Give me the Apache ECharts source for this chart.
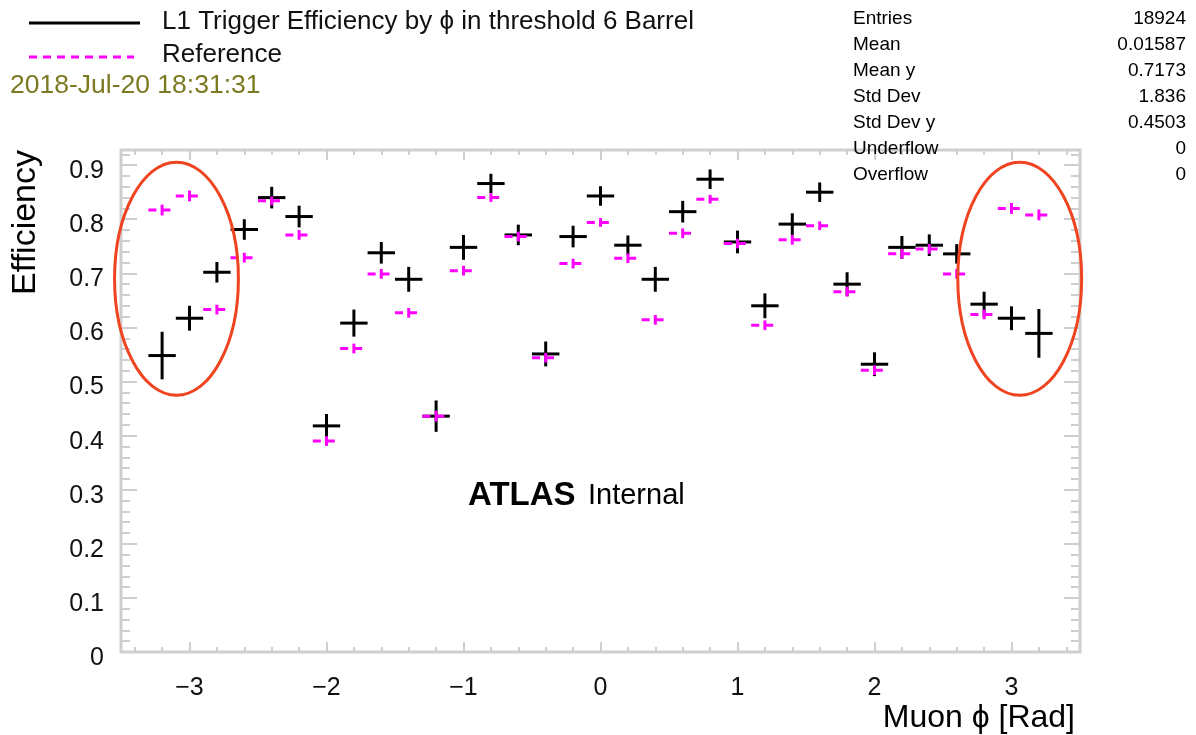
<!DOCTYPE html>
<html>
<head>
<meta charset="utf-8">
<title>L1 Trigger Efficiency by phi</title>
<script src="https://cdn.jsdelivr.net/npm/echarts@6/dist/echarts.min.js"></script>
<style>
  html, body { margin: 0; padding: 0; background: #fff; }
  #myChart { width: 1196px; height: 735px; }
</style>
</head>
<body>
<div id="myChart"></div>
<script>
// bin centres in muon phi [rad], bins are 0.2 wide
const phiBins = [-3.2, -3.0, -2.8, -2.6, -2.4, -2.2, -2.0, -1.8, -1.6, -1.4, -1.2,
  -1.0, -0.8, -0.6, -0.4, -0.2, 0.0, 0.2, 0.4, 0.6, 0.8, 1.0,
  1.2, 1.4, 1.6, 1.8, 2.0, 2.2, 2.4, 2.6, 2.8, 3.0, 3.2]
const binWidth = 0.2
const effValues = [0.548, 0.617, 0.702, 0.781, 0.840, 0.805, 0.418, 0.608, 0.738, 0.689, 0.436,
  0.748, 0.866, 0.771, 0.551, 0.768, 0.843, 0.752, 0.689, 0.814, 0.874, 0.758,
  0.640, 0.791, 0.850, 0.680, 0.532, 0.748, 0.752, 0.736, 0.643, 0.617, 0.589]
const effErrors = [0.044, 0.023, 0.019, 0.019, 0.020, 0.020, 0.022, 0.025, 0.020, 0.023, 0.029,
  0.023, 0.018, 0.019, 0.023, 0.020, 0.018, 0.018, 0.023, 0.020, 0.018, 0.021,
  0.023, 0.020, 0.018, 0.022, 0.022, 0.021, 0.020, 0.018, 0.023, 0.022, 0.045]
const refValues = [0.817, 0.843, 0.633, 0.729, 0.834, 0.771, 0.390, 0.561, 0.699, 0.627, 0.436,
  0.705, 0.840, 0.768, 0.544, 0.718, 0.794, 0.728, 0.614, 0.774, 0.837, 0.755,
  0.604, 0.762, 0.788, 0.666, 0.521, 0.736, 0.745, 0.699, 0.624, 0.820, 0.808]
const refErrors = [0.010, 0.010, 0.009, 0.009, 0.008, 0.009, 0.009, 0.009, 0.009, 0.009, 0.010,
  0.009, 0.008, 0.009, 0.009, 0.009, 0.008, 0.009, 0.009, 0.009, 0.008, 0.009,
  0.009, 0.009, 0.008, 0.009, 0.009, 0.009, 0.009, 0.009, 0.009, 0.010, 0.010]

const legendNames = ['L1 Trigger Efficiency by \u03d5 in threshold 6 Barrel', 'Reference']
const dateStamp = '2018-Jul-20 18:31:31'
const statLabels = ['Entries', 'Mean', 'Mean y', 'Std Dev', 'Std Dev y', 'Underflow', 'Overflow']
const statValues = ['18924', '0.01587', '0.7173', '1.836', '0.4503', '0', '0']

// highlighted regions (data coords): centre phi, centre eff
const rings = [[-3.095, 0.690], [3.06, 0.690]]
const ringRadius = [0.452, 0.2155]

const FONT = "'Liberation Sans', Arial, Helvetica, sans-serif"
const FRAME = '#cfcfcf'

let myChart = echarts.init(document.getElementById('myChart'))

function renderEff (params, api) {
  let x = api.value(0)
  let y = api.value(1)
  let e = api.value(2)
  let l = api.coord([x - binWidth / 2, y])
  let r = api.coord([x + binWidth / 2, y])
  let lo = api.coord([x, y - e])
  let hi = api.coord([x, y + e])
  let st = { stroke: '#000', lineWidth: 3 }
  return {
    type: 'group',
    children: [
      { type: 'line', shape: { x1: l[0], y1: l[1], x2: r[0], y2: r[1] }, style: st },
      { type: 'line', shape: { x1: lo[0], y1: lo[1], x2: hi[0], y2: hi[1] }, style: st }
    ]
  }
}

function renderRef (params, api) {
  let x = api.value(0)
  let y = api.value(1)
  let e = api.value(2)
  let l = api.coord([x - binWidth / 2, y])
  let r = api.coord([x + binWidth / 2, y])
  let lo = api.coord([x, y - e])
  let hi = api.coord([x, y + e])
  return {
    type: 'group',
    children: [
      { type: 'line', shape: { x1: l[0], y1: l[1], x2: r[0], y2: r[1] },
        style: { stroke: '#ff00ff', lineWidth: 3, lineDash: [8, 6] } },
      { type: 'line', shape: { x1: lo[0], y1: lo[1], x2: hi[0], y2: hi[1] },
        style: { stroke: '#ff00ff', lineWidth: 3 } }
    ]
  }
}

function xLabel (v) {
  let r = Math.round(v * 1000) / 1000
  if (!Number.isInteger(r)) return ''
  return r < 0 ? '\u2212' + Math.abs(r) : String(r)
}

// labels sit a little below their tick, as in the ROOT canvas
function yLabel (v) {
  if (v > 0.9001) return ''
  return '{v|' + (v === 0 ? '0' : v.toFixed(1)) + '}'
}

const tickStyle = { color: FRAME, width: 2 }
const noLine = { show: false, onZero: false }

let graphics = [
  { type: 'line', shape: { x1: 29, y1: 23, x2: 140, y2: 23 }, style: { stroke: '#000', lineWidth: 3 } },
  { type: 'line', shape: { x1: 29, y1: 57, x2: 134, y2: 57 }, style: { stroke: '#ff00ff', lineWidth: 3, lineDash: [8, 6] } },
  { type: 'text', x: 162, y: 22, style: { text: legendNames[0], font: '26px ' + FONT, fill: '#111', verticalAlign: 'middle' } },
  { type: 'text', x: 162, y: 55, style: { text: legendNames[1], font: '26px ' + FONT, fill: '#111', verticalAlign: 'middle' } },
  { type: 'text', x: 10, y: 86, style: { text: dateStamp, font: '26.5px ' + FONT, fill: '#7b7a22', verticalAlign: 'middle' } },
  { type: 'text', x: 468, y: 496, style: { text: 'ATLAS', font: 'bold 33px ' + FONT, fill: '#000', verticalAlign: 'middle' } },
  { type: 'text', x: 588, y: 496, style: { text: 'Internal', font: '29px ' + FONT, fill: '#000', verticalAlign: 'middle' } },
  { type: 'text', x: 1075, y: 718, style: { text: 'Muon \u03d5 [Rad]', font: '32px ' + FONT, fill: '#000', align: 'right', verticalAlign: 'middle' } },
  { type: 'text', x: 26, y: 150, rotation: Math.PI / 2, style: { text: 'Efficiency', font: '34px ' + FONT, fill: '#000', align: 'right', verticalAlign: 'middle' } }
]
statLabels.forEach(function (s, i) {
  graphics.push({ type: 'text', x: 853, y: 19 + i * 25.9, z: 10, style: { text: s, font: '19px ' + FONT, fill: '#000', verticalAlign: 'middle' } })
  graphics.push({ type: 'text', x: 1186, y: 19 + i * 25.9, z: 10, style: { text: statValues[i], font: '19px ' + FONT, fill: '#000', align: 'right', verticalAlign: 'middle' } })
})

myChart.setOption({
  animation: false,
  backgroundColor: '#fff',
  grid: { left: 121, right: 116, top: 150, bottom: 83, show: true, borderColor: FRAME, borderWidth: 3, backgroundColor: 'transparent' },
  xAxis: [
    {
      type: 'value', min: -3.5, max: 3.5, splitNumber: 7,
      axisLine: noLine,
      splitLine: { show: false },
      axisTick: { inside: true, length: 10, lineStyle: tickStyle },
      minorTick: { show: true, splitNumber: 5, length: 5, lineStyle: tickStyle },
      axisLabel: { margin: 24, formatter: xLabel, color: '#111', fontSize: 25, fontFamily: FONT }
    },
    {
      type: 'value', position: 'top', min: -3.5, max: 3.5, splitNumber: 7,
      axisLine: noLine,
      splitLine: { show: false },
      axisTick: { inside: true, length: 10, lineStyle: tickStyle },
      minorTick: { show: true, splitNumber: 5, length: 5, lineStyle: tickStyle },
      axisLabel: { show: false }
    }
  ],
  yAxis: [
    {
      type: 'value', min: 0, max: 0.928, interval: 0.1,
      axisLine: noLine,
      splitLine: { show: false },
      axisTick: { inside: true, length: 16, lineStyle: tickStyle },
      minorTick: { show: true, splitNumber: 5, length: 9, lineStyle: tickStyle },
      axisLabel: {
        margin: 17, formatter: yLabel,
        rich: { v: { color: '#111', fontSize: 25, fontFamily: FONT, padding: [12, 0, 0, 0] } }
      }
    },
    {
      type: 'value', position: 'right', min: 0, max: 0.928, interval: 0.1,
      axisLine: noLine,
      splitLine: { show: false },
      axisTick: { inside: true, length: 16, lineStyle: tickStyle },
      minorTick: { show: true, splitNumber: 5, length: 9, lineStyle: tickStyle },
      axisLabel: { show: false }
    }
  ],
  series: [
    {
      name: legendNames[0],
      type: 'custom',
      renderItem: renderEff,
      encode: { x: 0, y: 1 },
      data: phiBins.map(function (p, i) { return [p, effValues[i], effErrors[i]] }),
      z: 3
    },
    {
      name: legendNames[1],
      type: 'custom',
      renderItem: renderRef,
      encode: { x: 0, y: 1 },
      data: phiBins.map(function (p, i) { return [p, refValues[i], refErrors[i]] }),
      z: 4
    }
  ],
  graphic: graphics
})

// red rings drawn around the edge bins
rings.forEach(function (c) {
  let ctr = myChart.convertToPixel({ gridIndex: 0 }, c)
  let edge = myChart.convertToPixel({ gridIndex: 0 }, [c[0] + ringRadius[0], c[1] + ringRadius[1]])
  graphics.push({
    type: 'ellipse',
    shape: { cx: ctr[0], cy: ctr[1], rx: Math.abs(edge[0] - ctr[0]), ry: Math.abs(ctr[1] - edge[1]) },
    style: { fill: 'none', stroke: '#f0431f', lineWidth: 3 },
    z: 5
  })
})
myChart.setOption({ graphic: graphics })
</script>
</body>
</html>
